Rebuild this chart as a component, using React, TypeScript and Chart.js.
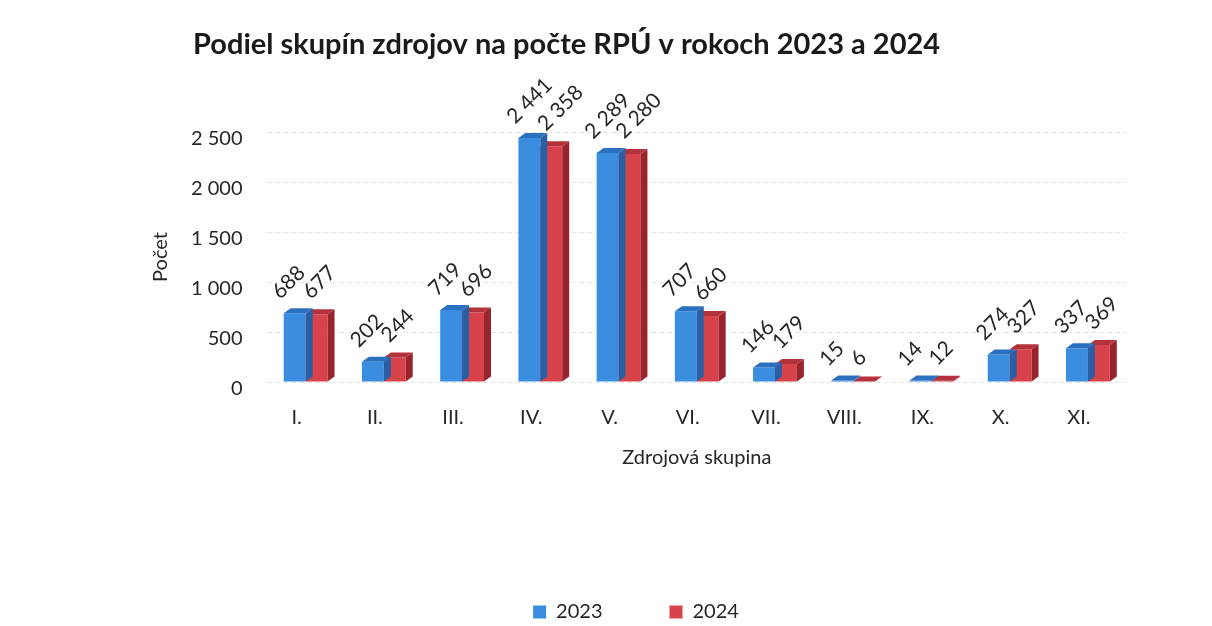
import React, { useEffect, useRef } from 'react';
import { Chart, registerables } from 'chart.js';

Chart.register(...registerables);

const TITLE = 'Podiel skupín zdrojov na počte RPÚ v rokoch 2023 a 2024';
const X_TITLE = 'Zdrojová skupina';
const Y_TITLE = 'Počet';
const categories = ['I.', 'II.', 'III.', 'IV.', 'V.', 'VI.', 'VII.', 'VIII.', 'IX.', 'X.', 'XI.'];
const seriesNames = ['2023', '2024'];
const values2023 = [688, 202, 719, 2441, 2289, 707, 146, 15, 14, 274, 337];
const values2024 = [677, 244, 696, 2358, 2280, 660, 179, 6, 12, 327, 369];
const yMax = 2500;
const yStep = 500;

const FONT = 'Lato, "Open Sans", sans-serif';
const frontColors = ['#3b8de0', '#d8434b'];
const topColors = ['#2b6fbf', '#b3323b'];
const sideColors = ['#2a5fa3', '#98242d'];
const labelShiftX = [-19, -10];
const labelShiftY = [-18, -19];
const DX = 7;
const DY = 5;

const fmt = (v: number) => String(v).replace(/\B(?=(\d{3})+(?!\d))/g, '\u00a0');

const threeD = {
  id: 'threeD',
  afterDatasetDraw(chart: any, args: any) {
    const ctx = chart.ctx;
    const i = args.index;
    ctx.save();
    args.meta.data.forEach((el: any) => {
      const { x, y, base, width } = el.getProps(['x', 'y', 'base', 'width'], true);
      const l = x - width / 2;
      const r = x + width / 2;
      ctx.fillStyle = sideColors[i];
      ctx.beginPath();
      ctx.moveTo(r, y);
      ctx.lineTo(r + DX, y - DY);
      ctx.lineTo(r + DX, base - DY);
      ctx.lineTo(r, base);
      ctx.closePath();
      ctx.fill();
      ctx.fillStyle = topColors[i];
      ctx.beginPath();
      ctx.moveTo(l, y);
      ctx.lineTo(l + DX, y - DY);
      ctx.lineTo(r + DX, y - DY);
      ctx.lineTo(r, y);
      ctx.closePath();
      ctx.fill();
    });
    ctx.restore();
  },
  afterDatasetsDraw(chart: any) {
    const ctx = chart.ctx;
    ctx.save();
    ctx.font = `21px ${FONT}`;
    ctx.fillStyle = '#262626';
    ctx.textAlign = 'left';
    ctx.textBaseline = 'middle';
    chart.data.datasets.forEach((ds: any, di: number) => {
      const meta = chart.getDatasetMeta(di);
      meta.data.forEach((el: any, j: number) => {
        const { x, y } = el.getProps(['x', 'y'], true);
        ctx.save();
        ctx.translate(x + labelShiftX[di], y + labelShiftY[di]);
        ctx.rotate(-Math.PI / 4);
        ctx.fillText(fmt(ds.data[j]), 0, 0);
        ctx.restore();
      });
    });
    ctx.restore();
  },
  afterDraw(chart: any) {
    const ctx = chart.ctx;
    ctx.save();
    ctx.font = `bold 29px ${FONT}`;
    ctx.fillStyle = '#1a1a1a';
    ctx.textAlign = 'left';
    ctx.textBaseline = 'middle';
    ctx.fillText(TITLE, 193, 45);
    ctx.restore();
  },
};

export default function App() {
  const ref = useRef<HTMLCanvasElement | null>(null);
  useEffect(() => {
    if (!ref.current) return;
    const chart = new Chart(ref.current, {
      type: 'bar',
      data: {
        labels: categories,
        datasets: [
          { label: seriesNames[0], data: values2023, backgroundColor: frontColors[0] },
          { label: seriesNames[1], data: values2024, backgroundColor: frontColors[1] },
        ],
      },
      plugins: [threeD],
      options: {
        animation: false,
        responsive: true,
        maintainAspectRatio: false,
        layout: { padding: { top: 132, left: 145, right: 85, bottom: -6 } },
        datasets: { bar: { barPercentage: 1, categoryPercentage: 0.56 } },
        plugins: {
          title: { display: false },
          tooltip: { enabled: false },
          legend: {
            position: 'bottom',
            align: 'center',
            labels: {
              boxWidth: 13,
              boxHeight: 13,
              padding: 67,
              color: '#262626',
              font: { family: FONT, size: 20 },
            },
          },
        },
        scales: {
          x: {
            grid: { display: false, drawTicks: false },
            border: { display: false },
            ticks: {
              color: '#262626',
              font: { family: FONT, size: 20 },
              padding: 24,
              labelOffset: -9,
              maxRotation: 0,
              autoSkip: false,
            },
            title: {
              display: true,
              text: X_TITLE,
              color: '#262626',
              font: { family: FONT, size: 20 },
              padding: { top: -8, bottom: 65 },
            },
          },
          y: {
            min: 0,
            max: yMax,
            grid: { color: '#e6e6e6', drawTicks: false },
            border: { display: false, dash: [5, 3] },
            ticks: {
              stepSize: yStep,
              color: '#262626',
              font: { family: FONT, size: 20 },
              padding: 24,
              labelOffset: 7,
              callback: (v: any) => fmt(Number(v)),
            },
            title: {
              display: true,
              text: Y_TITLE,
              color: '#262626',
              font: { family: FONT, size: 20 },
              padding: { top: 4, bottom: -6 },
            },
          },
        },
      },
    });
    return () => chart.destroy();
  }, []);
  return (
    <div style={{ position: 'absolute', left: 0, top: 0, width: 1212, height: 626 }}>
      <canvas ref={ref} />
    </div>
  );
}
